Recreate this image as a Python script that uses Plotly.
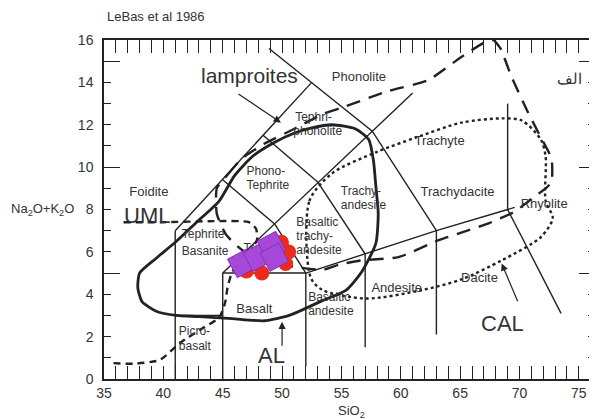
import plotly.graph_objects as go

# --- TAS 分类线 (Le Bas et al. 1986) ---
tas_lines = [
    [(41, 0), (41, 7)],
    [(41, 7), (52.5, 14)],
    [(45, 0), (45, 5)],
    [(41, 3), (45, 3)],
    [(45, 5), (61, 13.5)],
    [(45, 5), (52, 5)],
    [(52, 5), (57, 5.9), (63, 7), (69, 8), (69.6, 8.1)],
    [(49.4, 7.3), (52, 5)],
    [(52, 5), (52, 0.6)],
    [(48.4, 11.5), (53, 9.3)],
    [(53, 9.3), (57, 5.9)],
    [(57, 5.9), (57, 1.5)],
    [(48.9, 15.6), (52.5, 14), (57.6, 11.7), (63, 7)],
    [(63, 7), (63, 2.1)],
    [(69, 13), (69, 8)],
    [(45, 9.4), (49.4, 7.3)],
    [(69, 8), (73.5, 3.1)],
]

# 碱性 (AL) 区域 - 粗实线
al_x = [37.85, 38.0, 39.4, 41.1, 42.8, 44.7, 46.0, 47.5, 49.3, 51.0, 52.5, 54.2, 56.2, 57.3,
        57.7, 57.9, 58.1, 57.9, 56.7, 55.4, 53.4, 50.6, 48.5, 45.8, 43.0, 41.1, 39.4, 38.2, 37.85]
al_y = [4.3, 5.0, 5.7, 6.5, 7.4, 8.4, 9.6, 10.5, 11.15, 11.6, 11.85, 12.0, 11.8, 11.3,
        10.3, 9.1, 7.8, 6.4, 5.05, 4.2, 3.7, 3.0, 2.75, 2.85, 2.95, 3.0, 3.2, 3.65, 4.3]

# 钾镁煌斑岩 (lamproites) - 粗虚线
lamp_x = [44.5, 45.5, 46.6, 48.5, 51.0, 53.4, 55.0, 59.0, 62.3, 65.1, 67.1, 67.8, 68.4, 69.3,
          70.7, 71.8, 72.7, 72.7, 72.2, 71.0, 69.6, 67.4, 63.2, 59.8, 56.7, 54.8, 53.4, 51.0,
          48.5, 46.6, 45.3, 44.5, 44.5]
lamp_y = [9.0, 9.7, 10.4, 11.1, 11.8, 12.5, 12.8, 13.6, 14.1, 15.2, 15.9, 16.0, 15.6, 14.3,
          12.6, 11.4, 10.4, 9.3, 9.0, 8.5, 7.9, 7.35, 6.55, 5.75, 5.6, 5.4, 5.15, 5.3,
          5.6, 6.1, 6.8, 7.8, 9.0]

# 超镁铁质煌斑岩 (UML) - 虚线
uml_x = [35.8, 37.5, 39.7, 41.4, 43.3, 44.7, 45.2, 45.4, 45.7, 46.3, 47.3, 47.9, 47.8, 47.2,
         44.3, 40.0, 36.6]
uml_y = [0.75, 0.72, 0.9, 1.7, 2.4, 2.9, 3.6, 4.3, 4.9, 5.5, 6.0, 6.6, 7.1, 7.4,
         7.45, 7.4, 7.4]

# 钙碱性 (CAL) - 点线
cal_x = [52.4, 52.3, 54.2, 57.9, 61.3, 65.1, 68.5, 70.2, 71.8, 72.2, 72.2, 72.8, 71.8, 68.5,
         65.1, 61.8, 57.1, 53.4, 52.4]
cal_y = [4.8, 8.4, 9.7, 10.7, 11.4, 12.1, 12.3, 12.2, 11.3, 10.5, 8.4, 7.6, 6.7, 5.6,
         4.7, 4.2, 3.8, 4.2, 4.8]

# 样品点
purple_x = [46.6, 47.9, 49.1, 49.35]
purple_y = [5.45, 5.75, 6.3, 5.75]
red_x = [47.0, 48.3, 50.55, 50.3, 49.95]
red_y = [5.1, 5.0, 6.0, 5.45, 6.45]

# 岩石名称标签（单行，居中）
center_names = ["Phonolite", "Trachyte", "Trachydacite", "Rhyolite", "Foidite",
                "Basalt", "Andesite", "Dacite"]
center_x = [56.47, 63.27, 64.78, 72.08, 38.78, 47.67, 59.66, 66.63]
center_y = [14.2, 11.18, 8.77, 8.21, 8.77, 3.25, 4.25, 4.72]

# 岩石名称标签（多行，左对齐，逐行）
left_names = ["Tephri-", "phonolite", "Trachy-", "andesite", "Phono-", "Tephrite",
              "Tephrite", "Basanite", "Basaltic", "trachy-", "andesite",
              "Basaltic", "andesite", "Picro-", "basalt", "Tra"]
left_x = [51.1, 50.95, 54.95, 54.95, 47.0, 47.0, 41.55, 41.55, 51.2, 51.2, 51.2,
          52.2, 52.2, 41.3, 41.3, 46.75]
left_y = [12.31, 11.65, 8.82, 8.16, 9.76, 9.1, 6.79, 5.99, 7.38, 6.72, 6.06,
          3.8, 3.14, 2.22, 1.51, 6.15]

x_ticks = [35, 40, 45, 50, 55, 60, 65, 70, 75]
y_ticks = [0, 2, 4, 6, 8, 10, 12, 14, 16]

INK = '#222222'
TXT = '#333333'
FONT = 'Arial'

fig = go.Figure()

# TAS 边界
for seg in tas_lines:
    fig.add_trace(go.Scatter(
        x=[p[0] for p in seg], y=[p[1] for p in seg],
        mode='lines', line=dict(color=INK, width=1.4),
        showlegend=False, hoverinfo='skip',
    ))

fig.add_trace(go.Scatter(x=al_x, y=al_y, mode='lines',
                         line=dict(color=INK, width=2.8, shape='spline', smoothing=0.6),
                         showlegend=False, name='AL'))
fig.add_trace(go.Scatter(x=lamp_x, y=lamp_y, mode='lines',
                         line=dict(color=INK, width=2.4, dash='14px,9px', shape='spline', smoothing=0.5),
                         showlegend=False, name='lamproites'))
fig.add_trace(go.Scatter(x=uml_x, y=uml_y, mode='lines',
                         line=dict(color=INK, width=2.4, dash='7px,5px', shape='spline', smoothing=0.6),
                         showlegend=False, name='UML'))
fig.add_trace(go.Scatter(x=cal_x, y=cal_y, mode='lines',
                         line=dict(color=INK, width=2.4, dash='dot', shape='spline', smoothing=0.8),
                         showlegend=False, name='CAL'))

# 字段名称（画在样品点之下）
fig.add_trace(go.Scatter(x=center_x, y=center_y, mode='text', text=center_names,
                         textposition='middle center',
                         textfont=dict(family=FONT, size=13, color=TXT),
                         showlegend=False, hoverinfo='skip'))
fig.add_trace(go.Scatter(x=left_x, y=left_y, mode='text', text=left_names,
                         textposition='middle right',
                         textfont=dict(family=FONT, size=12, color=TXT),
                         showlegend=False, hoverinfo='skip'))

# 样品
fig.add_trace(go.Scatter(x=red_x, y=red_y, mode='markers',
                         marker=dict(symbol='circle', size=15, color='#ee2a1a'),
                         showlegend=False))
fig.add_trace(go.Scatter(x=purple_x, y=purple_y, mode='markers',
                         marker=dict(symbol='square', size=21, angle=-28, color='#a648d8',
                                     line=dict(color='#8530b5', width=1)),
                         showlegend=False))

# 用于长刻度的辅助轴
fig.add_trace(go.Scatter(x=[35], y=[0], mode='markers', marker=dict(size=0.1, opacity=0),
                         yaxis='y2', showlegend=False, hoverinfo='skip'))

big = dict(family=FONT, color=TXT)
fig.add_annotation(x=47.25, y=14.34, text='lamproites', showarrow=False, font=dict(size=21, **big))
fig.add_annotation(x=38.65, y=7.7, text='UML', showarrow=False, font=dict(size=22, **big))
fig.add_annotation(x=49.1, y=1.13, text='AL', showarrow=False, font=dict(size=22, **big))
fig.add_annotation(x=68.6, y=2.6, text='CAL', showarrow=False, font=dict(size=22, **big))
fig.add_annotation(x=74.2, y=14.2, text='الف', showarrow=False, font=dict(size=15, **big))

# 箭头
arrows = [((46.2, 13.5), (49.9, 12.1)), ((50.0, 1.5), (50.0, 2.7)), ((69.9, 3.6), (68.5, 5.45))]
for (x0, y0), (x1, y1) in arrows:
    fig.add_annotation(x=x1, y=y1, ax=x0, ay=y0, axref='x', ayref='y', text='',
                       showarrow=True, arrowhead=2, arrowsize=1.2, arrowwidth=1.2, arrowcolor=INK)

# 标题与轴名
fig.add_annotation(xref='paper', yref='paper', x=0.002, y=1.068, xanchor='left', yanchor='middle',
                   text='LeBas et al 1986', showarrow=False, font=dict(size=13, **big))
fig.add_annotation(xref='paper', yref='paper', x=-0.126, y=0.5, xanchor='center', yanchor='middle',
                   text='Na<sub>2</sub>O+K<sub>2</sub>O', showarrow=False, font=dict(size=13, **big))
fig.add_annotation(xref='paper', yref='paper', x=0.505, y=-0.097, xanchor='center', yanchor='middle',
                   text='SiO<sub>2</sub>', showarrow=False, font=dict(size=13, **big))

# 页面有 8px 的 body 边距，图的尺寸相应缩小
fig.update_layout(
    width=589, height=411,
    margin=dict(l=96, r=0, t=32, b=40),
    paper_bgcolor='white', plot_bgcolor='white',
    xaxis=dict(range=[35, 76.36], showgrid=False, zeroline=False,
               showline=True, linecolor=INK, linewidth=1.5, mirror='allticks',
               ticks='inside', tickvals=x_ticks, ticklen=13, tickwidth=1.3, tickcolor=INK,
               minor=dict(dtick=1, ticks='inside', ticklen=6, tickwidth=1.2, tickcolor=INK),
               tickfont=dict(family=FONT, size=14, color=TXT)),
    yaxis=dict(range=[0, 16], showgrid=False, zeroline=False,
               showline=True, linecolor=INK, linewidth=1.5, mirror='allticks',
               ticks='inside', tickvals=y_ticks, ticklen=7, tickwidth=1.2, tickcolor=INK,
               ticklabelstandoff=6,
               minor=dict(dtick=1, ticks='inside', ticklen=7, tickwidth=1.2, tickcolor=INK),
               tickfont=dict(family=FONT, size=14, color=TXT)),
    yaxis2=dict(range=[0, 16], overlaying='y', anchor='x', showgrid=False, zeroline=False,
                showline=False, mirror='allticks', ticks='inside', tickvals=[0, 5, 10, 15],
                ticklen=16, tickwidth=1.3, tickcolor=INK, showticklabels=False),
    showlegend=False,
)

fig.write_html("out.html")
